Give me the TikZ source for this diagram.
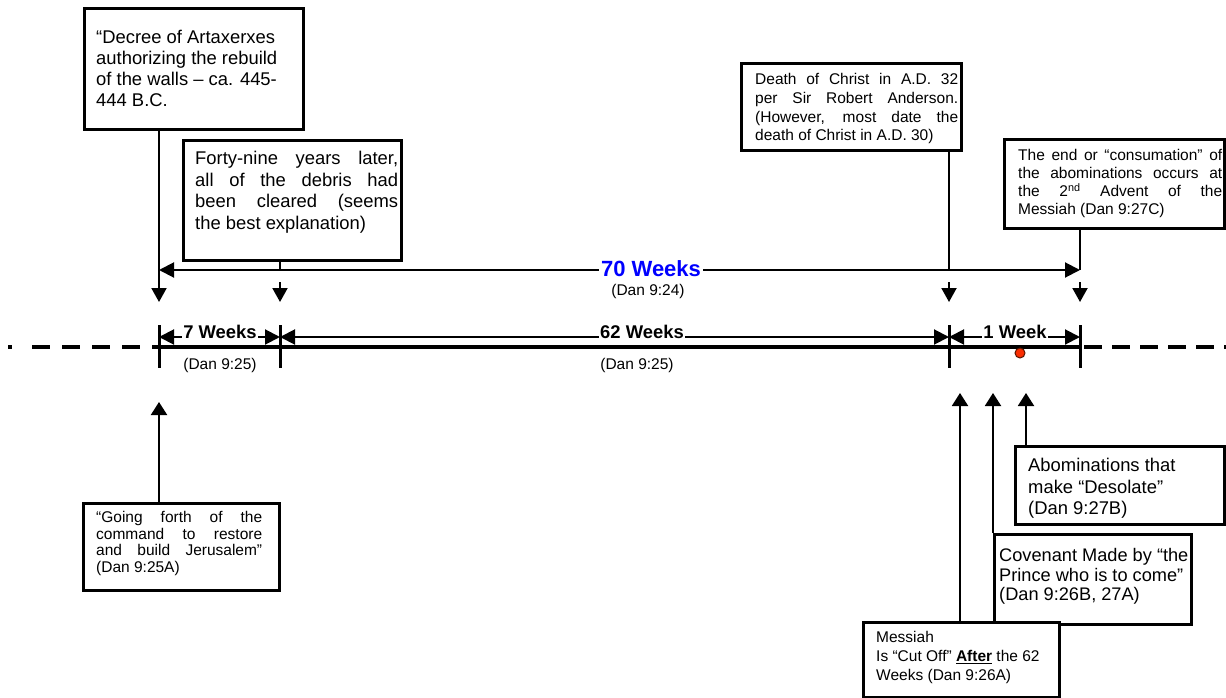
\documentclass[tikz,border=0pt]{standalone}
\usepackage{fontspec}
\setmainfont{Liberation Sans}
\usetikzlibrary{arrows.meta}
\newcommand\tstrut{\rule{0pt}{1em}}
\newcommand\jl[2]{\makebox[#1][s]{#2}}
\definecolor{dotred}{RGB}{250,45,0}
\definecolor{dotedge}{RGB}{90,20,0}
\begin{document}
\begin{tikzpicture}[x=1pt,y=-1pt,
  frame/.style={draw=black,line width=2.7pt,fill=white,inner sep=0pt,anchor=north west},
  txt/.style={inner sep=0pt,anchor=north west,align=left},
  conn/.style={line width=2pt},
  tipd/.style={-{Triangle[length=14pt,width=15pt]}},
  tipu/.style={-{Triangle[length=13pt,width=16pt]}},
  both/.style={{Triangle[length=15pt,width=15pt]}-{Triangle[length=15pt,width=15pt]}},
  wk/.style={fill=white,inner xsep=1.5pt,inner ysep=2.5pt,font=\bfseries\fontsize{18.4}{22}\selectfont},
  ref/.style={inner sep=0pt,font=\fontsize{15.5}{18}\selectfont},
  tick/.style={line width=3pt},
  tl/.style={line width=3.5pt}
]
\useasboundingbox (0,0) rectangle (1226,698);

% key coordinates
\coordinate (t0) at (159,347);
\coordinate (t1) at (280,347);
\coordinate (t2) at (949,347);
\coordinate (t3) at (1080,347);
\coordinate (w0) at (159,270);
\coordinate (w3) at (1080,270);
\coordinate (m0) at (159,337);
\coordinate (m1) at (280,337);
\coordinate (m2) at (949,337);
\coordinate (m3) at (1080,337);
\coordinate (a0) at (159,302);
\coordinate (a1) at (280,302);
\coordinate (a2) at (949,302);
\coordinate (a3) at (1080,302);
\coordinate (s1) at (280,282);
\coordinate (s2) at (949,282);
\coordinate (s3) at (1080,282);
\coordinate (u0) at (159,402);
\coordinate (u1) at (960,393);
\coordinate (u2) at (993,393);
\coordinate (u3) at (1026,393);
\coordinate (ld) at (32,347);
\coordinate (rd) at (1226,347);

% timeline
\draw[tl] (t0) -- (t3);
\draw[tl] (8,347) -- (12,347);
\draw[tl,dash pattern=on 18pt off 12pt] (ld) -- (t0);
\draw[tl,dash pattern=on 18pt off 10pt] (1084,347) -- (rd);
\foreach \x in {159,280,949,1080} \draw[tick] (\x,325) -- (\x,368);

% week spans
\draw[conn,both] (m0) -- (m1);
\draw[conn,both] (m1) -- (m2);
\draw[conn,both] (m2) -- (m3);
\node[wk] (w7) at (220,331.5) {7 Weeks};
\node[wk] (w62) at (642,331.5) {62 Weeks};
\node[wk] (w1) at (1015,331.5) {1 Week};
\node[ref] (r7) at (220,365) {(Dan 9:25)};
\node[ref] (r62) at (637,365) {(Dan 9:25)};

% 70 weeks
\draw[conn,both] (w0) -- (w3);
\node[fill=white,inner xsep=2pt,inner ysep=2pt,text={rgb,255:red,0;green,0;blue,255},font=\bfseries\fontsize{22}{26}\selectfont] (w70) at (651,269) {70 Weeks};
\node[ref] (r70) at (648,291) {(Dan 9:24)};

% boxes
\node[frame,minimum width=219pt,minimum height=121pt] (decree) at (83,7) {};
\node[txt,font=\fontsize{18.4}{21}\selectfont] (decreeT) at (96,25.2) {\tstrut“Decree of Artaxerxes\\authorizing the rebuild\\of the walls – ca. 445-\\444 B.C.};

\node[frame,minimum width=218pt,minimum height=120pt] (forty) at (182,139) {};
\node[txt,font=\fontsize{18.4}{21.5}\selectfont] (fortyT) at (195,146.2) {\tstrut\jl{203pt}{Forty-nine years later,}\\\jl{203pt}{all of the debris had}\\\jl{203pt}{been cleared (seems}\\the best explanation)};

\node[frame,minimum width=220pt,minimum height=87pt] (death) at (740,62) {};
\node[txt,font=\fontsize{15.5}{18.7}\selectfont] (deathT) at (755,69) {\tstrut\jl{203pt}{Death of Christ in A.D. 32}\\\jl{203pt}{per Sir Robert Anderson.}\\\jl{203pt}{(However, most date the}\\death of Christ in A.D. 30)};

\node[frame,minimum width=220pt,minimum height=89pt] (cons) at (1003,138) {};
\node[txt,font=\fontsize{15.5}{18}\selectfont] (consT) at (1018,145) {\tstrut\jl{204pt}{The end or “consumation” of}\\\jl{204pt}{the abominations occurs at}\\\jl{204pt}{the 2\textsuperscript{nd} Advent of the}\\Messiah (Dan 9:27C)};

\node[frame,minimum width=196pt,minimum height=87pt] (going) at (82,502) {};
\node[txt,font=\fontsize{15.5}{16.5}\selectfont] (goingT) at (96,507) {\tstrut\jl{166pt}{“Going forth of the}\\\jl{166pt}{command to restore}\\\jl{166pt}{and build Jerusalem”}\\(Dan 9:25A)};

\node[frame,minimum width=209pt,minimum height=78pt] (abom) at (1014,445) {};
\node[txt,font=\fontsize{18.4}{21.5}\selectfont] (abomT) at (1028,453.2) {\tstrut Abominations that\\make “Desolate”\\(Dan 9:27B)};

\node[frame,minimum width=197pt,minimum height=90pt] (cov) at (993,533) {};
\node[txt,font=\fontsize{18.2}{19.5}\selectfont] (covT) at (999,543.3) {\tstrut Covenant Made by “the\\Prince who is to come”\\(Dan 9:26B, 27A)};

\node[frame,minimum width=196pt,minimum height=75pt] (mess) at (862,621) {};
\node[txt,font=\fontsize{15.5}{19}\selectfont] (messT) at (876,627) {\tstrut Messiah\\Is “Cut Off” \textbf{\underline{After}} the 62\\Weeks (Dan 9:26A)};

% down connectors
\draw[conn,tipd] (decree.south -| a0) -- (a0);
\draw[conn] (forty.south -| s1) -- (s1 |- w0);
\draw[conn,tipd] (s1) -- (a1);
\draw[conn] (death.south -| s2) -- (s2 |- w0);
\draw[conn,tipd] (s2) -- (a2);
\draw[conn] (cons.south -| s3) -- (w3);
\draw[conn,tipd] (s3) -- (a3);

% up connectors
\draw[conn,tipu] (going.north -| u0) -- (u0);
\draw[conn,tipu] (mess.north -| u1) -- (u1);
\draw[conn,tipu] (cov.north -| u2) -- (u2);
\draw[conn,tipu] (abom.north -| u3) -- (u3);

% red dot
\node[circle,fill=dotred,draw=dotedge,line width=1pt,minimum size=10pt,inner sep=0pt] (dot) at (1020,353) {};
\end{tikzpicture}
\end{document}
